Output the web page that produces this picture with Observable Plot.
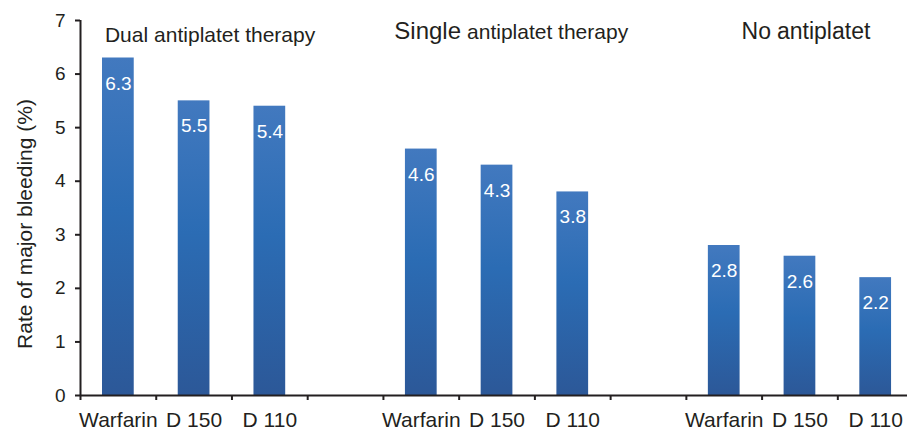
<!DOCTYPE html>
<html>
<head>
<meta charset="utf-8">
<script src="https://cdn.jsdelivr.net/npm/d3@7"></script>
<script src="https://cdn.jsdelivr.net/npm/@observablehq/plot@0.6"></script>
<style>
  html, body { margin: 0; padding: 0; background: white; overflow: hidden; }
</style>
</head>
<body>
<div id="chart"></div>
<script>
// ---- data ----
const groups = ["Dual antiplatet therapy", "Single antiplatet therapy", "No antiplatet"];
const drugs = ["Warfarin", "D 150", "D 110"];
const dualValues = [6.3, 5.5, 5.4];
const singleValues = [4.6, 4.3, 3.8];
const noneValues = [2.8, 2.6, 2.2];
const yTicks = [0, 1, 2, 3, 4, 5, 6, 7];
const yLabel = "Rate of major bleeding (%)";

// ---- build table ----
const series = [dualValues, singleValues, noneValues];
const slotsPerGroup = drugs.length + 1; // one empty slot between groups
const rows = series.flatMap((vals, g) =>
  vals.map((v, j) => ({group: groups[g], drug: drugs[j], value: v, slot: g * slotsPerGroup + j}))
);
const titles = groups.map((t, g) => {
  const parts = t.split(" ");
  return {first: parts[0], rest: parts.slice(1).join(" "), mid: g * slotsPerGroup + 1.5, g};
});

// title styling (layout only)
const firstSize = [21, 24, 23];
const restSize = [21, 21, 23];
const splitDx = [-43, -33, -26];
const baseline = [41, 38.5, 38.5];
const mTop = 20;

const font = "Liberation Sans, Arial, Helvetica, sans-serif";
const ink = "#231f20";

const chart = Plot.plot({
  width: 907,
  height: 430,
  marginLeft: 80,
  marginRight: 0,
  marginTop: mTop,
  marginBottom: 35,
  style: {fontFamily: font, fontSize: "19px", color: ink, background: "white"},
  x: {domain: [0, 10.92], axis: null},
  y: {domain: [0, 7], axis: null},
  marks: [
    Plot.rect(rows, {
      x1: "slot", x2: d => d.slot + 1, y1: 0, y2: "value",
      insetLeft: 22, insetRight: 22, fill: "url(#barGrad)"
    }),
    Plot.text(rows, {
      x: d => d.slot + 0.5, y: "value", text: d => d.value.toFixed(1),
      fill: "white", fontSize: 19, lineAnchor: "top", dy: 18
    }),
    Plot.text(rows, {
      x: d => d.slot + 0.5, y: 0, text: "drug",
      fill: ink, fontSize: 21, lineAnchor: "top", dy: 17
    }),
    ...titles.flatMap(t => [
      Plot.text([t], {
        x: "mid", y: 7, text: "first", textAnchor: "end", lineAnchor: "top",
        fontSize: firstSize[t.g], fill: ink,
        dx: splitDx[t.g] - 3, dy: baseline[t.g] - mTop - 0.71 * firstSize[t.g]
      }),
      Plot.text([t], {
        x: "mid", y: 7, text: "rest", textAnchor: "start", lineAnchor: "top",
        fontSize: restSize[t.g], fill: ink,
        dx: splitDx[t.g] + 3, dy: baseline[t.g] - mTop - 0.71 * restSize[t.g]
      })
    ]),
    Plot.ruleX([0], {stroke: ink, strokeWidth: 2}),
    Plot.ruleY([0], {stroke: ink, strokeWidth: 2}),
    Plot.axisY({ticks: yTicks, tickFormat: d3.format("d"), tickSize: 5, tickPadding: 10, fontSize: 19, label: null, strokeWidth: 2, stroke: ink, fill: ink}),
    Plot.axisX({ticks: d3.range(0, 11), tickSize: 5, tickFormat: () => "", label: null, strokeWidth: 2, stroke: ink}),
    Plot.text([yLabel], {
      frameAnchor: "left", rotate: -90, dx: -55, dy: 16,
      fontSize: 21, fill: ink, lineAnchor: "middle", textAnchor: "middle"
    })
  ]
});

// gradient definition for the bars
const ns = "http://www.w3.org/2000/svg";
const defs = document.createElementNS(ns, "defs");
defs.innerHTML = `
  <linearGradient id="barGrad" x1="0" y1="0" x2="0" y2="1">
    <stop offset="0%" stop-color="#4279bf"/>
    <stop offset="45%" stop-color="#2b6cb4"/>
    <stop offset="100%" stop-color="#2c5898"/>
  </linearGradient>`;
chart.insertBefore(defs, chart.firstChild);
document.getElementById("chart").appendChild(chart);
</script>
</body>
</html>
